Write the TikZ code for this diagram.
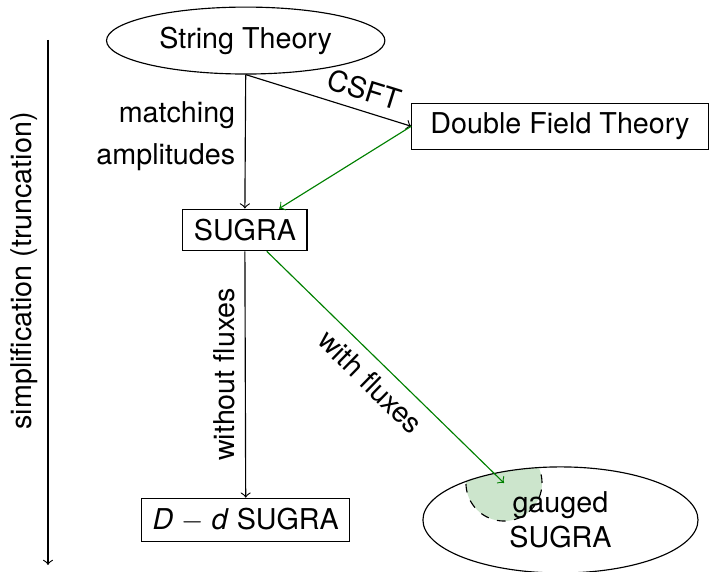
\documentclass[tikz,border=0pt]{standalone}
\usepackage{fontspec}
\setmainfont{TeX Gyre Heros}
\usetikzlibrary{shapes.geometric, backgrounds}

\definecolor{fluxgreen}{rgb}{0,0.5,0}

\begin{document}
\begin{tikzpicture}[
    box/.style={draw, rectangle, minimum height=0.51cm},
    oval/.style={draw, ellipse},
    flow/.style={->, draw=fluxgreen}]
  \useasboundingbox (0, 0) rectangle (8.894, 7.007);

  \node (st) at (3.01, 6.51) [oval, minimum width=3.41cm, minimum height=0.82cm] {String Theory};
  \node (dft) at (6.86, 5.46) [box, minimum width=3.63cm, minimum height=0.56cm] {Double Field Theory};
  \node (sugra) at (3.00, 4.19) [box, minimum width=1.52cm] {SUGRA};
  \node (dd) at (3.01, 0.64) [box, minimum width=2.55cm] {\textit{D} $-$ \textit{d} SUGRA};
  \node (gsugra) at (6.866, 0.637) [oval, minimum width=3.37cm, minimum height=1.30cm, align=center] {gauged\\SUGRA};
  \coordinate (flux) at (6.174, 1.09);

  % shaded patch inside the gauged ellipse
  \begin{scope}[on background layer]
    \clip (6.866, 0.637) ellipse (1.685 and 0.65);
    \draw[dashed, fill=fluxgreen!20] (flux) circle (0.466);
  \end{scope}

  \draw[->] (st.south) -- (sugra.north) node[pos=0.46, left, align=right] {matching\\[2.5pt]amplitudes};
  \draw[->] (st.south) -- (dft.west) node[pos=0.68, above, sloped] {CSFT};
  \draw[flow] (dft.west) -- (sugra);
  \draw[->] (sugra.south) -- (dd.north) node[midway, rotate=90, anchor=south] {without fluxes};
  \draw[flow] (sugra) -- (flux) node[midway, below, sloped] {with fluxes};

  % direction of simplification
  \coordinate (top) at (0.588, 6.517);
  \coordinate (bottom) at (0.588, 0.086);
  \draw[->] (top) -- (bottom) node[pos=0.44, rotate=90, anchor=south] {simplification (truncation)};
\end{tikzpicture}
\end{document}
